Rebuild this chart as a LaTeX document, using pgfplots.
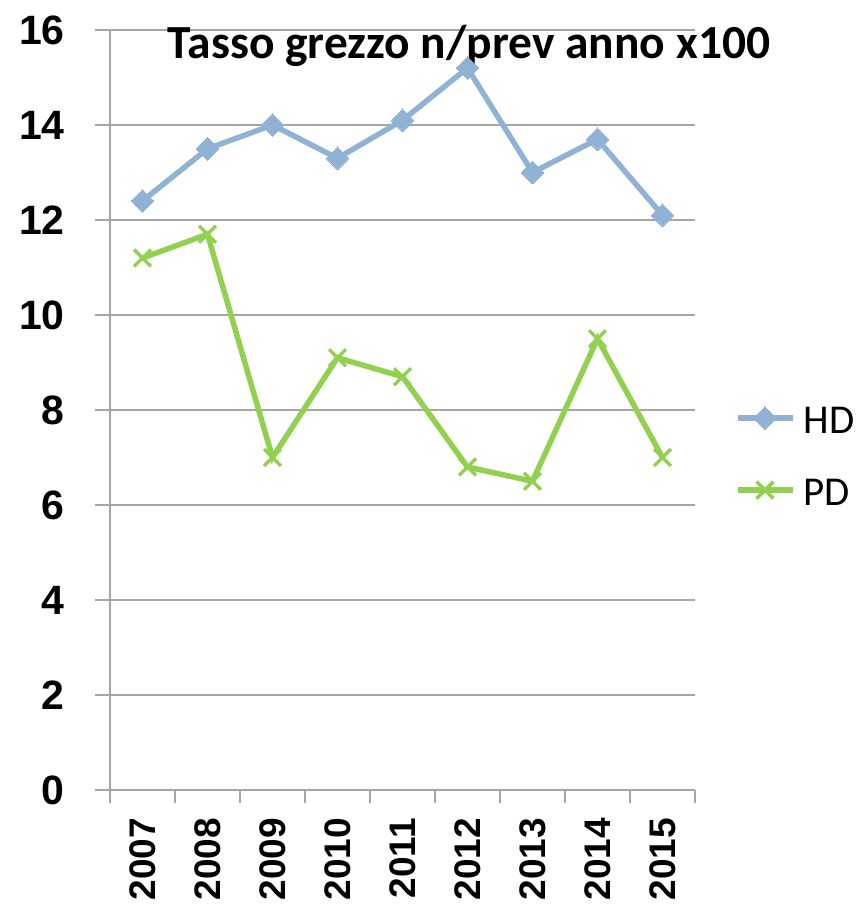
\documentclass[border=0pt]{standalone}
\usepackage{fontspec}
\setmainfont{Carlito}
\newfontfamily\titlefont{Carlito}
\newfontfamily\tickfont{Liberation Sans}
\usepackage{pgfplots}
\pgfplotsset{compat=1.18}
\definecolor{hdcol}{HTML}{8FB2D5}
\definecolor{pdcol}{HTML}{92D050}
\definecolor{gridcol}{HTML}{A6A6A6}
\begin{document}
\begin{tikzpicture}
\begin{axis}[
  scale only axis, width=585pt, height=760pt,
  xmin=0.5, xmax=9.5, ymin=0, ymax=16,
  clip=false,
  axis lines*=left,
  axis line style={draw=gridcol, line width=1.3pt},
  xtick={1,...,9},
  xticklabels={2007,2008,2009,2010,2011,2012,2013,2014,2015},
  minor xtick={0.5,1.5,...,9.5},
  major x tick style={draw=none},
  minor x tick style={draw=gridcol, line width=1.3pt},
  ytick={0,2,...,16},
  ytick style={draw=gridcol, line width=1.3pt},
  tick align=outside,
  major tick length=15pt, minor tick length=13pt,
  ymajorgrids, grid style={draw=gridcol, line width=1.3pt},
  /pgf/number format/assume math mode=true,
  ticklabel style={font=\tickfont\bfseries\fontsize{41}{41}\selectfont, inner sep=0pt},
  x tick label style={rotate=90, anchor=east, font=\tickfont\bfseries\fontsize{37}{37}\selectfont},
  xticklabel shift=13pt,
  yticklabel shift=30pt,
  legend style={at={(1,0.442)}, anchor=west, xshift=40pt, draw=none, fill=none,
    inner sep=0pt, row sep=42pt, font=\fontsize{41}{41}\selectfont,
    nodes={inner sep=0pt, text height=30pt, text depth=0pt}},
  legend cell align=left,
  legend image code/.code={\draw[mark repeat=2, mark phase=2, #1] plot coordinates {(0pt,0pt) (27pt,0pt) (55pt,0pt)}; \node at (62pt,0) {};},
]
\addplot[hdcol, line width=5.5pt, mark=square*, mark size=8pt, mark options={rotate=45, line width=0pt}]
  coordinates {(1,12.4) (2,13.5) (3,14.0) (4,13.3) (5,14.1) (6,15.2) (7,13.0) (8,13.7) (9,12.1)};
\addlegendentry{HD}
\addplot[pdcol, line width=5.5pt, mark=x, mark size=12pt, mark options={line width=3.5pt}]
  coordinates {(1,11.2) (2,11.7) (3,7.0) (4,9.1) (5,8.7) (6,6.8) (7,6.5) (8,9.5) (9,7.0)};
\addlegendentry{PD}
\node[anchor=base, inner sep=0pt, font=\titlefont\bfseries\fontsize{47.5}{47.5}\selectfont] at (rel axis cs:0.6137,0.963) {Tasso grezzo n/prev anno x100};
\end{axis}
\pgfresetboundingbox
\path (-110pt,-116pt) rectangle (746pt,790pt);
\end{tikzpicture}
\end{document}
